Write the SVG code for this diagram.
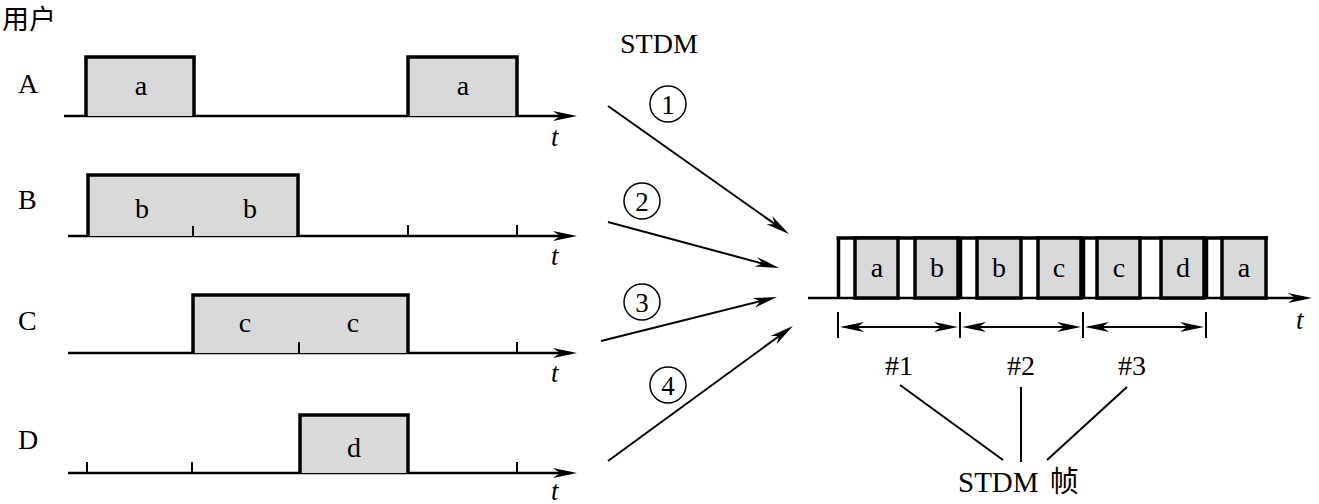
<svg xmlns="http://www.w3.org/2000/svg" width="1319" height="504" viewBox="0 0 1319 504">
<style>
text{font-family:"Liberation Serif","Noto Sans CJK SC",serif;fill:#000}
.lbl{font-size:28px}
.in{font-size:28px;text-anchor:middle}
.t{font-size:27px;font-style:italic}
.cn{font-size:27px;text-anchor:middle}
.ax{stroke:#000;stroke-width:2.5;fill:none}
.box{fill:#d9d9d9;stroke:#000;stroke-width:3.5}
.tick{stroke:#000;stroke-width:2;fill:none}
.conn{stroke:#000;stroke-width:2;fill:none}
.circ{fill:none;stroke:#000;stroke-width:1.5}
</style>
<defs>
<marker id="ah" markerUnits="userSpaceOnUse" orient="auto-start-reverse" overflow="visible" markerWidth="1" markerHeight="1">
<path d="M8,0 L-16,-5 L-9,0 L-16,5 Z" fill="#000"/>
</marker>
</defs>

<text class="lbl" x="2" y="29" style="font-family:'Noto Sans CJK SC',sans-serif;font-size:27px">用户</text>
<text class="lbl" x="620" y="53">STDM</text>

<g id="userA">
<text class="lbl" x="18" y="93">A</text>
<line class="ax" x1="64" y1="116" x2="569" y2="116" marker-end="url(#ah)"/>
<path class="box" d="M86,116 V57 H194 V116"/>
<path class="box" d="M408,116 V57 H517 V116"/>
<text class="in" x="141" y="95">a</text>
<text class="in" x="463" y="95">a</text>
<text class="t" x="551" y="146">t</text>
</g>

<g id="userB">
<text class="lbl" x="18" y="209">B</text>
<line class="ax" x1="68" y1="236" x2="569" y2="236" marker-end="url(#ah)"/>
<path class="box" d="M88,236 V175 H298 V236"/>
<line class="tick" x1="193" y1="226" x2="193" y2="236"/>
<line class="tick" x1="408" y1="225" x2="408" y2="236"/>
<line class="tick" x1="517" y1="225" x2="517" y2="236"/>
<text class="in" x="142" y="218">b</text>
<text class="in" x="250" y="218">b</text>
<text class="t" x="551" y="265">t</text>
</g>

<g id="userC">
<text class="lbl" x="18" y="330">C</text>
<line class="ax" x1="68" y1="353" x2="569" y2="353" marker-end="url(#ah)"/>
<path class="box" d="M193,353 V295 H408 V353"/>
<line class="tick" x1="299" y1="342" x2="299" y2="353"/>
<line class="tick" x1="517" y1="342" x2="517" y2="353"/>
<text class="in" x="245" y="332">c</text>
<text class="in" x="353" y="332">c</text>
<text class="t" x="551" y="382">t</text>
</g>

<g id="userD">
<text class="lbl" x="18" y="449">D</text>
<line class="ax" x1="68" y1="473" x2="569" y2="473" marker-end="url(#ah)"/>
<path class="box" d="M300,473 V415 H408 V473"/>
<line class="tick" x1="87" y1="462" x2="87" y2="473"/>
<line class="tick" x1="192" y1="462" x2="192" y2="473"/>
<line class="tick" x1="517" y1="462" x2="517" y2="473"/>
<text class="in" x="354" y="457">d</text>
<text class="t" x="551" y="500">t</text>
</g>

<g id="connectors">
<line class="conn" x1="608" y1="106" x2="782.4" y2="229.4" marker-end="url(#ah)"/>
<line class="conn" x1="608" y1="222" x2="771.3" y2="265.9" marker-end="url(#ah)"/>
<line class="conn" x1="601" y1="341" x2="769.2" y2="299" marker-end="url(#ah)"/>
<line class="conn" x1="608" y1="461" x2="786.5" y2="330.7" marker-end="url(#ah)"/>
</g>

<g id="labels">
<circle class="circ" cx="668" cy="104" r="18"/><text class="cn" x="668" y="113.5">1</text>
<circle class="circ" cx="642" cy="201" r="18"/><text class="cn" x="642" y="210.5">2</text>
<circle class="circ" cx="642" cy="302" r="18"/><text class="cn" x="642" y="311.5">3</text>
<circle class="circ" cx="668" cy="385" r="18"/><text class="cn" x="668" y="394.5">4</text>
</g>

<g id="frame">
<line class="ax" x1="808" y1="298" x2="1304" y2="298" marker-end="url(#ah)"/>
<line stroke="#000" stroke-width="3.5" x1="836.5" y1="238" x2="1268" y2="238"/>
<line stroke="#000" stroke-width="3.5" x1="838.5" y1="238" x2="838.5" y2="298"/>
<line stroke="#000" stroke-width="3.5" x1="960.5" y1="238" x2="960.5" y2="298"/>
<line stroke="#000" stroke-width="3.5" x1="1083.5" y1="238" x2="1083.5" y2="298"/>
<line stroke="#000" stroke-width="3.5" x1="1206.5" y1="238" x2="1206.5" y2="298"/>
<rect class="box" x="855" y="238" width="43" height="60"/>
<rect class="box" x="915" y="238" width="43" height="60"/>
<rect class="box" x="977" y="238" width="44" height="60"/>
<rect class="box" x="1038" y="238" width="43" height="60"/>
<rect class="box" x="1097" y="238" width="43" height="60"/>
<rect class="box" x="1161" y="238" width="43" height="60"/>
<rect class="box" x="1222" y="238" width="44" height="60"/>
<text class="in" x="877" y="277">a</text>
<text class="in" x="937" y="277">b</text>
<text class="in" x="999" y="277">b</text>
<text class="in" x="1059" y="277">c</text>
<text class="in" x="1119" y="277">c</text>
<text class="in" x="1183" y="277">d</text>
<text class="in" x="1244" y="277">a</text>
<text class="t" x="1296" y="329">t</text>
<line class="tick" x1="838" y1="312" x2="838" y2="338"/>
<line class="tick" x1="960" y1="312" x2="960" y2="338"/>
<line class="tick" x1="1083" y1="312" x2="1083" y2="338"/>
<line class="tick" x1="1206" y1="312" x2="1206" y2="338"/>
<line class="tick" x1="848" y1="327" x2="950" y2="327" marker-start="url(#ah)" marker-end="url(#ah)"/>
<line class="tick" x1="970" y1="327" x2="1073" y2="327" marker-start="url(#ah)" marker-end="url(#ah)"/>
<line class="tick" x1="1093" y1="327" x2="1196" y2="327" marker-start="url(#ah)" marker-end="url(#ah)"/>
</g>

<g id="frameLabels">
<text class="lbl" x="885" y="375">#1</text>
<text class="lbl" x="1007" y="375">#2</text>
<text class="lbl" x="1118" y="375">#3</text>
<line class="conn" x1="900" y1="385" x2="1003" y2="460"/>
<line class="conn" x1="1021" y1="387" x2="1021" y2="462"/>
<line class="conn" x1="1127" y1="387" x2="1047" y2="460"/>
<text class="lbl" x="958" y="492" style="font-size:29px;word-spacing:4px">STDM 帧</text>
</g>
</svg>
